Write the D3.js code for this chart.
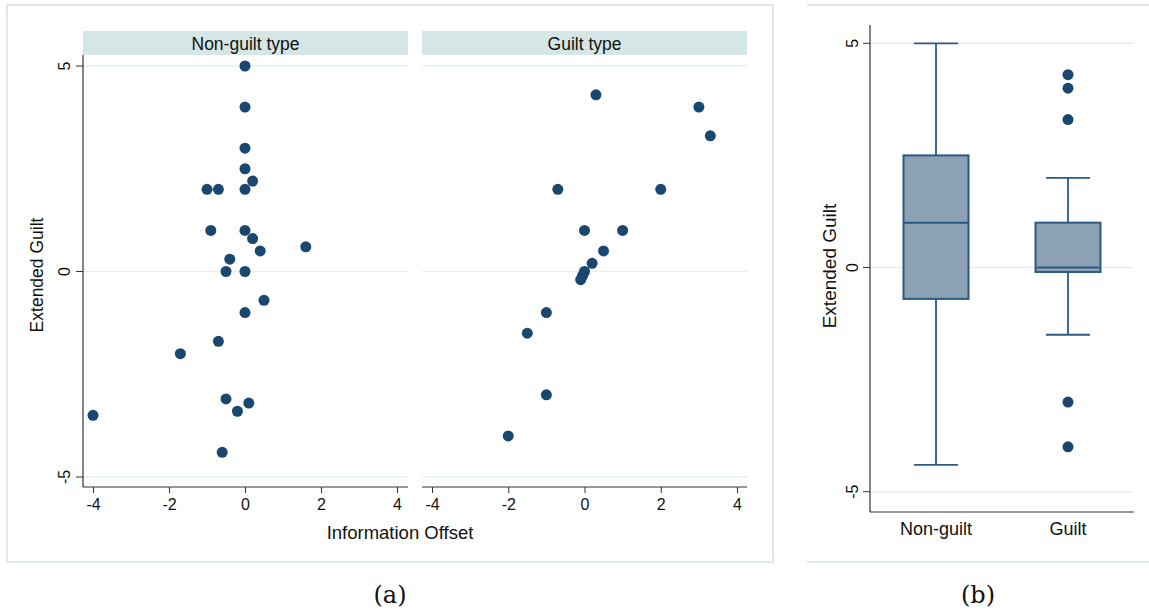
<!DOCTYPE html>
<html><head><meta charset="utf-8">
<script src="https://cdn.jsdelivr.net/npm/d3@7"></script>
<style>body{margin:0;background:#fff}svg{display:block;font-family:"Liberation Sans",Arial,sans-serif}</style>
</head><body><svg id="c" width="1149" height="615"></svg>
<script>
// ---- data ----
const facets = ["Non-guilt type", "Guilt type"];
const nonGuiltOffset = [0,0,0,0,0.2,-1,-0.7,0,-0.9,0,0.2,0.4,1.6,-0.4,-0.5,0,0.5,0,-0.7,-1.7,-0.5,0.1,-0.2,-4,-0.6];
const nonGuiltGuilt  = [5,4,3,2.5,2.2,2,2,2,1,1,0.8,0.5,0.6,0.3,0,0,-0.7,-1,-1.7,-2,-3.1,-3.2,-3.4,-3.5,-4.4];
const guiltOffset = [0.3,3,3.3,-0.7,2,0,1,0.5,0.2,0,-0.05,-0.1,-1,-1.5,-1,-2];
const guiltGuilt  = [4.3,4,3.3,2,2,1,1,0.5,0.2,0,-0.1,-0.2,-1,-1.5,-3,-4];
const xTicks = [-4,-2,0,2,4];
const yTicks = [-5,0,5];
const boxGroups = ["Non-guilt", "Guilt"];
const boxQ1 = [-0.7, -0.1];
const boxMedian = [1, 0];
const boxQ3 = [2.5, 1];
const boxLowWhisker = [-4.4, -1.5];
const boxHighWhisker = [5, 2];
const boxOutliers = [[], [4.3, 4, 3.3, -3, -4]];

const svg = d3.select("#c");
const navy = "#1a476f", grid = "#e6eff2", axisC = "#333";
const fmt = d => String(d);

// ---- panel (a) frame ----
svg.append("rect").attr("x",7).attr("y",5).attr("width",766).attr("height",557)
  .attr("fill","#fff").attr("stroke","#dfe9ed").attr("stroke-width",2);

const yA = d3.scaleLinear().domain([-5,5]).range([477,66]);
const facetData = [
  {name:facets[0], xs:nonGuiltOffset, ys:nonGuiltGuilt, left:83, right:408, r:[93,397]},
  {name:facets[1], xs:guiltOffset, ys:guiltGuilt, left:422, right:747, r:[432,737]}
];
facetData.forEach((f,i)=>{
  const x = d3.scaleLinear().domain([-4,4]).range(f.r);
  const g = svg.append("g");
  g.append("rect").attr("x",f.left).attr("y",31).attr("width",f.right-f.left).attr("height",24).attr("fill","#d5e6e6");
  g.append("text").attr("x",(f.left+f.right)/2).attr("y",49.5).attr("text-anchor","middle")
    .attr("font-size",17.5).attr("fill","#111").text(f.name);
  g.selectAll(".gl").data(yTicks).join("line").attr("x1",f.left).attr("x2",f.right)
    .attr("y1",d=>yA(d)).attr("y2",d=>yA(d)).attr("stroke",grid).attr("stroke-width",1.5);
  // x axis
  const xa = g.append("g").attr("transform","translate(0,487)")
    .call(d3.axisBottom(x).tickValues(xTicks).tickSize(6).tickSizeOuter(0).tickFormat(fmt));
  xa.select(".domain").remove();
  xa.selectAll("line").attr("stroke",axisC);
  xa.selectAll("text").attr("font-size",16).attr("fill","#111").attr("font-family","Liberation Sans, Arial, sans-serif").attr("dy","0.9em");
  g.append("line").attr("x1",f.left).attr("x2",f.right).attr("y1",487).attr("y2",487).attr("stroke",axisC).attr("stroke-width",1.2);
  if(i===0){
    g.append("line").attr("x1",f.left).attr("x2",f.left).attr("y1",55).attr("y2",487).attr("stroke",axisC).attr("stroke-width",1.2);
    yTicks.forEach(t=>{
      g.append("line").attr("x1",f.left-7).attr("x2",f.left).attr("y1",yA(t)).attr("y2",yA(t)).attr("stroke",axisC);
      g.append("text").attr("transform",`translate(${f.left-13},${yA(t)}) rotate(-90)`)
        .attr("text-anchor","middle").attr("font-size",16).attr("fill","#111").text(fmt(t));
    });
  }
  g.selectAll(".pt").data(f.xs.map((v,k)=>[v,f.ys[k]])).join("circle")
    .attr("cx",d=>x(d[0])).attr("cy",d=>yA(d[1])).attr("r",5.5).attr("fill",navy);
});
svg.append("text").attr("transform","translate(43,275) rotate(-90)").attr("text-anchor","middle")
  .attr("font-size",17.5).attr("fill","#111").text("Extended Guilt");
svg.append("text").attr("x",400).attr("y",539).attr("text-anchor","middle")
  .attr("font-size",18.5).attr("fill","#111").text("Information Offset");

// ---- panel (b) ----
svg.append("line").attr("x1",807).attr("x2",1149).attr("y1",5).attr("y2",5).attr("stroke","#dfe9ed").attr("stroke-width",2);
svg.append("line").attr("x1",807).attr("x2",1149).attr("y1",562).attr("y2",562).attr("stroke","#dfe9ed").attr("stroke-width",2);
const yB = d3.scaleLinear().domain([-5,5]).range([491.7,43.3]);
const xB = d3.scalePoint().domain(boxGroups).range([870,1134]).padding(0.5);
const gb = svg.append("g");
gb.selectAll(".gl").data(yTicks).join("line").attr("x1",870).attr("x2",1134)
  .attr("y1",d=>yB(d)).attr("y2",d=>yB(d)).attr("stroke",grid).attr("stroke-width",1.5);
const boxStroke = "#2b5a82", boxFill = "#8da1b5", bw = 65, cap = 44;
boxGroups.forEach((grp,i)=>{
  const cx = xB(grp);
  gb.append("line").attr("x1",cx).attr("x2",cx).attr("y1",yB(boxHighWhisker[i])).attr("y2",yB(boxQ3[i])).attr("stroke",boxStroke).attr("stroke-width",1.8);
  gb.append("line").attr("x1",cx).attr("x2",cx).attr("y1",yB(boxQ1[i])).attr("y2",yB(boxLowWhisker[i])).attr("stroke",boxStroke).attr("stroke-width",1.8);
  [boxHighWhisker[i], boxLowWhisker[i]].forEach(v=>{
    gb.append("line").attr("x1",cx-cap/2).attr("x2",cx+cap/2).attr("y1",yB(v)).attr("y2",yB(v)).attr("stroke",boxStroke).attr("stroke-width",1.8);
  });
  gb.append("rect").attr("x",cx-bw/2).attr("width",bw).attr("y",yB(boxQ3[i])).attr("height",yB(boxQ1[i])-yB(boxQ3[i]))
    .attr("fill",boxFill).attr("stroke",boxStroke).attr("stroke-width",2);
  gb.append("line").attr("x1",cx-bw/2).attr("x2",cx+bw/2).attr("y1",yB(boxMedian[i])).attr("y2",yB(boxMedian[i])).attr("stroke",boxStroke).attr("stroke-width",2);
  gb.selectAll(".o"+i).data(boxOutliers[i]).join("circle").attr("cx",cx).attr("cy",d=>yB(d)).attr("r",5.5).attr("fill",navy);
  gb.append("text").attr("x",cx).attr("y",535).attr("text-anchor","middle").attr("font-size",18).attr("fill","#111").text(grp);
});
gb.append("line").attr("x1",870).attr("x2",870).attr("y1",25).attr("y2",512).attr("stroke",axisC).attr("stroke-width",1.2);
gb.append("line").attr("x1",870).attr("x2",1134).attr("y1",512).attr("y2",512).attr("stroke",axisC).attr("stroke-width",1.2);
yTicks.forEach(t=>{
  gb.append("line").attr("x1",863).attr("x2",870).attr("y1",yB(t)).attr("y2",yB(t)).attr("stroke",axisC);
  gb.append("text").attr("transform",`translate(858,${yB(t)}) rotate(-90)`)
    .attr("text-anchor","middle").attr("font-size",16).attr("fill","#111").text(fmt(t));
});
svg.append("text").attr("transform","translate(836,266) rotate(-90)").attr("text-anchor","middle")
  .attr("font-size",19).attr("fill","#111").text("Extended Guilt");

// captions
svg.append("text").attr("x",390).attr("y",603).attr("text-anchor","middle").attr("font-family","DejaVu Serif, serif").attr("font-size",24).attr("fill","#111").text("(a)");
svg.append("text").attr("x",978).attr("y",603).attr("text-anchor","middle").attr("font-family","DejaVu Serif, serif").attr("font-size",24).attr("fill","#111").text("(b)");
</script></body></html>
